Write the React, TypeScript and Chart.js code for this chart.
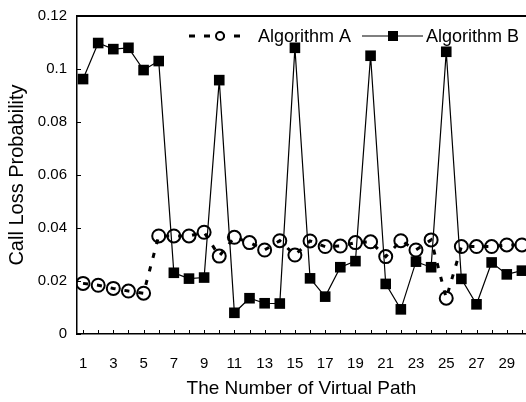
import React, { useEffect, useRef } from 'react';
import { Chart, registerables } from 'chart.js';

Chart.register(...registerables);

const paths = [1, 2, 3, 4, 5, 6, 7, 8, 9, 10, 11, 12, 13, 14, 15, 16, 17, 18, 19, 20, 21, 22, 23, 24, 25, 26, 27, 28, 29, 30];
const algorithmA = [0.0191, 0.0184, 0.0172, 0.0162, 0.0154, 0.037, 0.037, 0.037, 0.0384, 0.0294, 0.0365, 0.0345, 0.0317, 0.0352, 0.0298, 0.0351, 0.033, 0.0332, 0.0345, 0.0348, 0.0292, 0.0352, 0.0317, 0.0355, 0.0135, 0.033, 0.033, 0.033, 0.0336, 0.0336];
const algorithmB = [0.0962, 0.1098, 0.1075, 0.108, 0.0996, 0.103, 0.0231, 0.0209, 0.0213, 0.0958, 0.008, 0.0135, 0.0116, 0.0115, 0.108, 0.021, 0.0141, 0.0252, 0.0275, 0.105, 0.0189, 0.0093, 0.0273, 0.0252, 0.1065, 0.0208, 0.0112, 0.027, 0.0225, 0.0239];
const yTickValues = [0, 0.02, 0.04, 0.06, 0.08, 0.1, 0.12];
const yTickLabels = ['0', '0.02', '0.04', '0.06', '0.08', '0.1', '0.12'];
const seriesNames = ['Algorithm A', 'Algorithm B'];
const xTitle = 'The Number of Virtual Path';
const yTitle = 'Call Loss Probability';

const FONT = "'Liberation Sans', Arial, sans-serif";

const decorPlugin = {
  id: 'decor',
  afterDraw(chart: any) {
    const { ctx, chartArea, scales } = chart;
    const x = scales.x;
    const y = scales.y;
    ctx.save();
    ctx.strokeStyle = '#000';
    ctx.lineWidth = 1;
    for (const v of paths) {
      const px = Math.round(x.getPixelForValue(v)) + 0.5;
      ctx.beginPath();
      ctx.moveTo(px, chartArea.bottom);
      ctx.lineTo(px, chartArea.bottom - 4);
      ctx.stroke();
    }
    for (const v of yTickValues) {
      const py = Math.round(y.getPixelForValue(v)) + 0.5;
      ctx.beginPath();
      ctx.moveTo(chartArea.left, py);
      ctx.lineTo(chartArea.left + 4, py);
      ctx.stroke();
    }
    ctx.lineWidth = 2;
    ctx.beginPath();
    ctx.moveTo(chartArea.left, chartArea.top);
    ctx.lineTo(chart.width, chartArea.top);
    ctx.stroke();

    const ly = 36;
    ctx.font = `18px ${FONT}`;
    ctx.fillStyle = '#000';
    ctx.textBaseline = 'middle';
    ctx.textAlign = 'left';
    ctx.lineWidth = 3;
    ctx.setLineDash([6, 9]);
    ctx.beginPath();
    ctx.moveTo(189, ly);
    ctx.lineTo(247, ly);
    ctx.stroke();
    ctx.setLineDash([]);
    ctx.lineWidth = 2;
    ctx.beginPath();
    ctx.arc(220, ly, 4, 0, Math.PI * 2);
    ctx.fillStyle = '#fff';
    ctx.fill();
    ctx.stroke();
    ctx.fillStyle = '#000';
    ctx.fillText(seriesNames[0], 258, ly + 1);
    ctx.lineWidth = 1.2;
    ctx.beginPath();
    ctx.moveTo(362, ly);
    ctx.lineTo(423, ly);
    ctx.stroke();
    ctx.fillRect(388, ly - 5, 10, 10);
    ctx.fillText(seriesNames[1], 426, ly + 1);
    ctx.restore();
  },
};

export default function App() {
  const ref = useRef<HTMLCanvasElement | null>(null);

  useEffect(() => {
    if (!ref.current) return;
    const chart = new Chart(ref.current, {
      type: 'line',
      data: {
        datasets: [
          {
            label: seriesNames[1],
            data: paths.map((p, i) => ({ x: p, y: algorithmB[i] })),
            borderColor: '#000',
            backgroundColor: '#000',
            borderWidth: 1.2,
            pointStyle: 'rect',
            pointRadius: 7.5,
            pointBorderWidth: 0,
            pointBackgroundColor: '#000',
            tension: 0,
          },
          {
            label: seriesNames[0],
            data: paths.map((p, i) => ({ x: p, y: algorithmA[i] })),
            borderColor: '#000',
            backgroundColor: 'rgba(0,0,0,0)',
            borderWidth: 3,
            borderDash: [5, 9],
            pointStyle: 'circle',
            pointRadius: 6.5,
            pointBorderWidth: 2,
            pointBackgroundColor: 'rgba(0,0,0,0)',
            pointBorderColor: '#000',
            tension: 0,
          },
        ],
      },
      options: {
        animation: false,
        responsive: false,
        devicePixelRatio: 1,
        layout: { autoPadding: false, padding: { top: 16, right: 0, bottom: 0, left: 0 } },
        plugins: {
          legend: { display: false },
          tooltip: { enabled: false },
        },
        scales: {
          x: {
            type: 'linear',
            min: 0.6,
            max: 30.27,
            afterBuildTicks: (axis: any) => {
              axis.ticks = paths.map((v) => ({ value: v }));
            },
            afterFit: (s: any) => {
              s.height = 68;
              s.paddingRight = 0;
              s.paddingLeft = 0;
            },
            grid: { display: false, drawTicks: false },
            border: { display: true, color: '#000', width: 1.5 },
            ticks: {
              autoSkip: false,
              maxRotation: 0,
              padding: 21,
              color: '#000',
              font: { family: FONT, size: 15 },
              callback: (v: any) => (Number(v) % 2 === 1 ? String(v) : ''),
            },
            title: {
              display: true,
              text: xTitle,
              color: '#000',
              font: { family: FONT, size: 19 },
              padding: { top: 0, bottom: 2 },
            },
          },
          y: {
            type: 'linear',
            min: 0,
            max: 0.12,
            afterBuildTicks: (axis: any) => {
              axis.ticks = yTickValues.map((v) => ({ value: v }));
            },
            afterFit: (s: any) => {
              s.width = 77;
              s.paddingTop = 0;
              s.paddingBottom = 0;
            },
            grid: { display: false, drawTicks: false },
            border: { display: true, color: '#000', width: 1.5 },
            ticks: {
              padding: 10,
              color: '#000',
              font: { family: FONT, size: 15 },
              callback: (v: any) => {
                const i = yTickValues.findIndex((t) => Math.abs(t - Number(v)) < 1e-9);
                return i >= 0 ? yTickLabels[i] : '';
              },
            },
            title: {
              display: true,
              text: yTitle,
              color: '#000',
              font: { family: FONT, size: 20 },
              padding: { top: 5, bottom: 0 },
            },
          },
        },
      },
      plugins: [decorPlugin],
    });
    return () => chart.destroy();
  }, []);

  return (
    <div style={{ position: 'absolute', left: 0, top: 0, width: 526, height: 402, background: '#fff' }}>
      <canvas ref={ref} width={526} height={402} style={{ display: 'block' }} />
    </div>
  );
}
